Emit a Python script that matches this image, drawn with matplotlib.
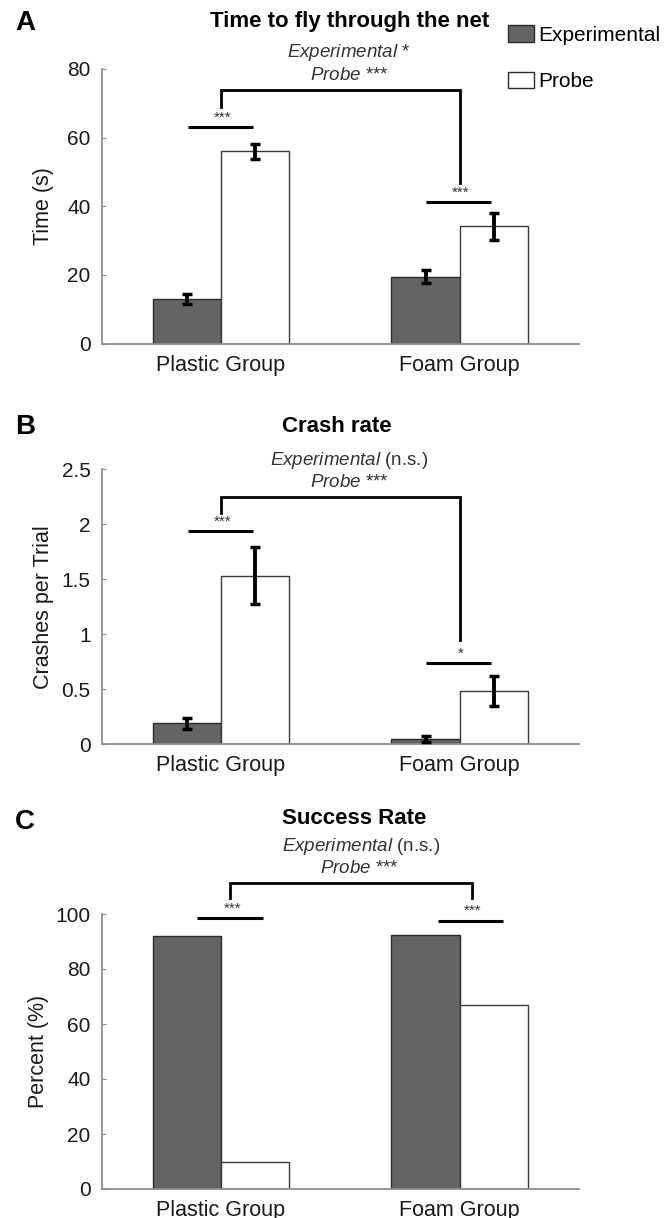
import numpy as np
import matplotlib
matplotlib.use("Agg")
import matplotlib.pyplot as plt
from matplotlib.patches import Patch

plt.rcParams['font.family'] = ['Liberation Sans', 'DejaVu Sans']
plt.rcParams['mathtext.fontset'] = 'custom'
plt.rcParams['mathtext.rm'] = 'Liberation Sans'
plt.rcParams['mathtext.it'] = 'Liberation Sans:italic'

# ==========================================================
# DATA
# ==========================================================

groups       = ["Plastic Group", "Foam Group"]
series_names = ["Experimental", "Probe"]

time_exp     = [13.0, 19.4]
time_exp_err = [1.45, 1.9]
time_prb     = [56.0, 34.1]
time_prb_err = [2.2, 3.9]

crash_exp     = [0.19, 0.045]
crash_exp_err = [0.05, 0.025]
crash_prb     = [1.53, 0.485]
crash_prb_err = [0.26, 0.135]

success_exp = [92.0, 92.4]
success_prb = [9.9, 66.8]

# significance annotations (data units)
# (x_left, x_right, y, label) for the pairwise lines
pair_A = [(0.86, 1.135, 63.1, "***"), (1.857, 2.133, 41.2, "***")]
pair_B = [(0.86, 1.135, 1.938, "***"), (1.857, 2.133, 0.734, "*")]
pair_C = [(0.899, 1.176, 98.4, "***"), (1.911, 2.181, 97.5, "***")]
# bracket: x_left, x_right, y_top, y_left_end, y_right_end
bracket_A = (1.0, 2.0, 73.9, 68.9, 46.8)
bracket_B = (1.0, 2.0, 2.25, 2.099, 0.946)
bracket_C = (1.037, 2.05, 111.3, 105.8, 105.8)

# ==========================================================
# STYLE
# ==========================================================

DARK   = "#646464"
AXCOL  = "#8c8c8c"
BAR_W  = 0.286
FIG_W, FIG_H = 665, 1218


def px_axes(x0, x1, ytop, ybot):
    return [x0 / FIG_W, 1 - ybot / FIG_H, (x1 - x0) / FIG_W, (ybot - ytop) / FIG_H]


def style_axes(ax, ylim, yticks, yticklabels, ylabel, label_x):
    ax.set_xlim(0.5, 2.5)
    ax.set_ylim(*ylim)
    ax.set_yticks(yticks)
    ax.set_yticklabels(yticklabels, fontsize=15, color="#1a1a1a")
    ax.set_xticks([1, 2])
    ax.set_xticklabels(groups, fontsize=15.5, color="#1a1a1a")
    ax.tick_params(axis="x", length=0, pad=8)
    ax.tick_params(axis="y", direction="in", length=3, color=AXCOL, pad=8)
    for s in ["top", "right"]:
        ax.spines[s].set_visible(False)
    for s in ["left", "bottom"]:
        ax.spines[s].set_color(AXCOL)
        ax.spines[s].set_linewidth(1.3)
    ax.set_ylabel(ylabel, fontsize=15.5, color="#1a1a1a")
    ax.yaxis.set_label_coords(label_x, 0.5)


def draw_bars(ax, exp, prb, exp_err=None, prb_err=None):
    x = np.array([1, 2])
    ax.bar(x - BAR_W / 2, exp, BAR_W, color=DARK, edgecolor="#2a2a2a", linewidth=1.0, zorder=2)
    ax.bar(x + BAR_W / 2, prb, BAR_W, color="white", edgecolor="#3a3a3a", linewidth=1.0, zorder=2)
    if exp_err is not None:
        ax.errorbar(x - BAR_W / 2, exp, yerr=exp_err, fmt="none", ecolor="black",
                    elinewidth=2.8, capsize=3.5, capthick=2.5, zorder=3)
        ax.errorbar(x + BAR_W / 2, prb, yerr=prb_err, fmt="none", ecolor="black",
                    elinewidth=2.8, capsize=3.5, capthick=2.5, zorder=3)


def draw_sig(ax, pairs, bracket, star_gap):
    for x0, x1, y, lab in pairs:
        ax.plot([x0, x1], [y, y], color="black", lw=2.2, clip_on=False, solid_capstyle="butt")
        ax.text((x0 + x1) / 2 + 0.01, y + star_gap, lab, ha="center", va="center",
                fontsize=11, color="#333333", clip_on=False)
    xl, xr, yt, yl, yr = bracket
    ax.plot([xl, xl, xr, xr], [yl, yt, yt, yr], color="black", lw=2.0,
            clip_on=False, solid_joinstyle="miter")


fig = plt.figure(figsize=(FIG_W / 100, FIG_H / 100), dpi=100)

# ---------------- Panel A ----------------
axA = fig.add_axes(px_axes(101.7, 579, 69, 343.5))
draw_bars(axA, time_exp, time_prb, time_exp_err, time_prb_err)
style_axes(axA, (0, 80), [0, 20, 40, 60, 80], ["0", "20", "40", "60", "80"], "Time (s)", -0.10)
draw_sig(axA, pair_A, bracket_A, 2.6)
axA.text(1.54, 93.7, "Time to fly through the net", ha="center", va="center",
         fontsize=16, fontweight="bold", clip_on=False)
axA.text(1.536, 84.7, r"$\mathit{Experimental}$ *", ha="center", va="center",
         fontsize=13.5, color="#333333", clip_on=False)
axA.text(1.536, 78.0, r"$\mathit{Probe}$ ***", ha="center", va="center",
         fontsize=13.5, color="#333333", clip_on=False)

# ---------------- Panel B ----------------
axB = fig.add_axes(px_axes(101.7, 579, 469.3, 744))
draw_bars(axB, crash_exp, crash_prb, crash_exp_err, crash_prb_err)
style_axes(axB, (0, 2.5), [0, 0.5, 1, 1.5, 2, 2.5], ["0", "0.5", "1", "1.5", "2", "2.5"],
           "Crashes per Trial", -0.10)
draw_sig(axB, pair_B, bracket_B, 0.085)
axB.text(1.486, 2.894, "Crash rate", ha="center", va="center",
         fontsize=16, fontweight="bold", clip_on=False)
axB.text(1.536, 2.584, r"$\mathit{Experimental}$ (n.s.)", ha="center", va="center",
         fontsize=13.5, color="#333333", clip_on=False)
axB.text(1.536, 2.384, r"$\mathit{Probe}$ ***", ha="center", va="center",
         fontsize=13.5, color="#333333", clip_on=False)

# ---------------- Panel C ----------------
axC = fig.add_axes(px_axes(101.7, 579, 914, 1189))
draw_bars(axC, success_exp, success_prb)
style_axes(axC, (0, 100), [0, 20, 40, 60, 80, 100], ["0", "20", "40", "60", "80", "100"],
           "Percent (%)", -0.111)
draw_sig(axC, pair_C, bracket_C, 3.6)
axC.text(1.558, 134.9, "Success Rate", ha="center", va="center",
         fontsize=16, fontweight="bold", clip_on=False)
axC.text(1.586, 124.7, r"$\mathit{Experimental}$ (n.s.)", ha="center", va="center",
         fontsize=13.5, color="#333333", clip_on=False)
axC.text(1.582, 116.6, r"$\mathit{Probe}$ ***", ha="center", va="center",
         fontsize=13.5, color="#333333", clip_on=False)

# ---------------- panel letters ----------------
for lab, ypx in [("A", 23), ("B", 427), ("C", 822)]:
    fig.text(25 / FIG_W, 1 - ypx / FIG_H, lab, ha="center", va="center",
             fontsize=20, fontweight="bold")

# ---------------- legend ----------------
handles = [Patch(facecolor=DARK, edgecolor="#2a2a2a", linewidth=1.0),
           Patch(facecolor="white", edgecolor="#2a2a2a", linewidth=1.0)]
fig.legend(handles, series_names, loc="upper left",
           bbox_to_anchor=(508 / FIG_W, 1 - 25 / FIG_H),
           frameon=False, fontsize=15, borderpad=0, borderaxespad=0,
           handlelength=1.25, handleheight=0.85, handletextpad=0.2, labelspacing=1.3)

fig.savefig("out.png", dpi=100)
